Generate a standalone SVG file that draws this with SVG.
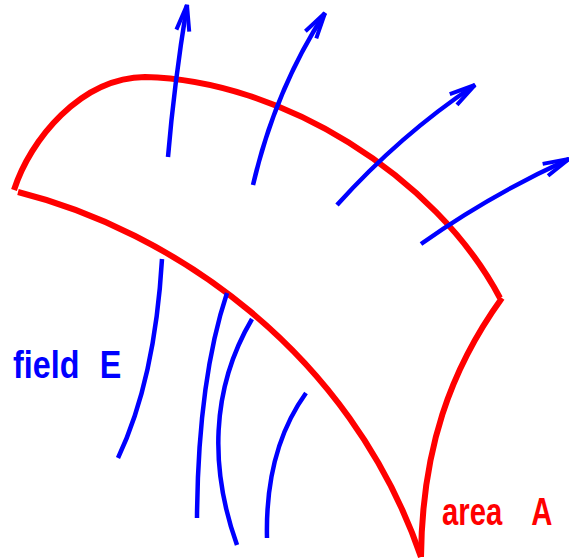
<svg xmlns="http://www.w3.org/2000/svg" width="569" height="560" viewBox="0 0 569 560">
<style>
.red{fill:none;stroke:#ff0000;stroke-width:6}
.blue{fill:none;stroke:#0000ff;stroke-width:4.5}
.lbl{font-family:"Liberation Sans",Arial,sans-serif;font-weight:bold;font-size:38px}
</style>
<defs>
<marker id="arr" markerUnits="userSpaceOnUse" markerWidth="40" markerHeight="20" viewBox="-30 -10 40 20" refX="0" refY="0" orient="auto" overflow="visible">
<path d="M-26,-6.5 L0,0 L-26,6.5" fill="none" stroke="#0000ff" stroke-width="4"/>
</marker>
</defs>
<g id="area">
<path class="red" d="M14,190 C30,140 80,78 145,77 C280,80 435,175 500,298"/>
<path class="red" d="M18,192 C170,230 350,350 421,557"/>
<path class="red" d="M502,298 C450,370 422,450 421,557"/>
</g>
<g id="connectors">
<path class="blue" marker-end="url(#arr)" d="M168,157 Q174,85 187,5"/>
<path class="blue" marker-end="url(#arr)" d="M253,185 Q275,90 325,13"/>
<path class="blue" marker-end="url(#arr)" d="M337,205 Q400,135 475,85"/>
<path class="blue" marker-end="url(#arr)" d="M421,244 Q490,195 569,159"/>
<path class="blue" d="M162,259 Q155,380 118,458"/>
<path class="blue" d="M227,293 Q198,380 197,518"/>
<path class="blue" d="M252,319 C210,390 210,470 237,545"/>
<path class="blue" d="M306,393 Q265,450 267,538"/>
</g>
<g id="label-field">
<text class="lbl" fill="#0000ff" transform="translate(13,378) scale(0.85,1)">field<tspan x="102">E</tspan></text>
</g>
<g id="label-area">
<text class="lbl" fill="#ff0000" transform="translate(442,525) scale(0.77,1)">area<tspan x="116">A</tspan></text>
</g>
</svg>
